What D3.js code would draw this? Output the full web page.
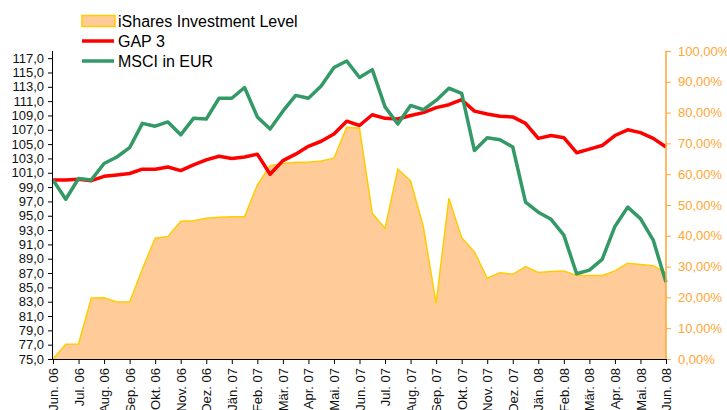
<!DOCTYPE html>
<html>
<head>
<meta charset="utf-8">
<script src="https://cdn.jsdelivr.net/npm/d3@7"></script>
<style>
  body { margin: 0; background: #fff; }
  svg { font-family: "Liberation Sans", Arial, sans-serif; }
</style>
</head>
<body>
<svg id="chart"></svg>
<script>
const months = ["Jun. 06","Jul. 06","Aug. 06","Sep. 06","Okt. 06","Nov. 06","Dez. 06","Jän. 07",
  "Feb. 07","Mär. 07","Apr. 07","Mai. 07","Jun. 07","Jul. 07","Aug. 07","Sep. 07","Okt. 07",
  "Nov. 07","Dez. 07","Jän. 08","Feb. 08","Mär. 08","Apr. 08","Mai. 08","Jun. 08"];

// semi-monthly readings, 49 points from Jun. 06 to Jun. 08
const gap3 = [100.0,100.0,100.1,99.9,100.5,100.7,100.9,101.5,101.5,101.8,101.3,102.1,102.8,
  103.3,103.0,103.2,103.6,100.8,102.7,103.6,104.7,105.4,106.4,108.2,107.6,
  109.1,108.6,108.5,109.0,109.4,110.1,110.5,111.2,109.6,109.2,108.9,108.8,
  107.9,105.8,106.2,105.9,103.8,104.3,104.8,106.2,107.0,106.6,105.8,104.6];

const msci = [100.0,97.3,100.2,100.0,102.3,103.2,104.5,107.9,107.5,108.1,106.3,108.6,108.5,
  111.4,111.4,112.9,108.8,107.1,109.6,111.8,111.4,113.1,115.7,116.6,114.3,
  115.4,110.2,107.8,110.4,109.8,111.1,112.8,112.1,104.1,105.9,105.6,104.6,
  96.9,95.5,94.5,92.3,86.9,87.4,88.9,93.5,96.2,94.6,91.6,85.7];

// investment level in percent (right axis)
const investment = [0,4.8,4.9,19.8,19.9,18.5,18.5,29.2,39.2,39.8,44.7,44.9,45.7,
  46.0,46.2,46.2,56.5,62.8,63.5,63.9,63.9,64.3,65.2,75.2,74.9,
  47.3,42.4,61.6,57.8,43.0,18.1,52.2,39.4,34.8,26.2,28.0,27.5,
  30.0,28.1,28.4,28.6,27.1,27.1,27.1,28.6,31.1,30.7,30.3,28.0];

const leftTicks = d3.range(75, 118, 2);
const rightTicks = d3.range(0, 101, 10);

const width = 727, height = 410;
const margin = { top: 51, right: 61, bottom: 51, left: 53 };
const orange = "#FFA633";

const svg = d3.select("#chart")
  .attr("width", width)
  .attr("height", height);

const xScale = d3.scaleLinear()
  .domain([0, investment.length - 1])
  .range([margin.left, width - margin.right]);

const yScale = d3.scaleLinear()
  .domain([75, 118])
  .range([height - margin.bottom, margin.top]);

const pScale = d3.scaleLinear()
  .domain([0, 100 * 43 / 43])
  .range([height - margin.bottom, margin.top]);

const comma = f => v => d3.format(f)(v).replace(".", ",");

// area for investment level
const area = d3.area()
  .x((d, i) => xScale(i))
  .y0(pScale(0))
  .y1(d => pScale(d));

svg.append("path")
  .datum(investment)
  .attr("d", area)
  .attr("fill", "#FFCC99");

svg.append("path")
  .datum(investment)
  .attr("d", d3.line().x((d, i) => xScale(i)).y(d => pScale(d)))
  .attr("fill", "none")
  .attr("stroke", "#FFCC00")
  .attr("stroke-width", 1.5);

const line = d3.line()
  .x((d, i) => xScale(i))
  .y(d => yScale(d));

svg.append("path")
  .datum(gap3)
  .attr("d", line)
  .attr("fill", "none")
  .attr("stroke", "#FF0000")
  .attr("stroke-width", 3.5)
  .attr("stroke-linejoin", "round");

svg.append("path")
  .datum(msci)
  .attr("d", line)
  .attr("fill", "none")
  .attr("stroke", "#339966")
  .attr("stroke-width", 3.5)
  .attr("stroke-linejoin", "round");

// axes
const yAxis = d3.axisLeft(yScale)
  .tickValues(leftTicks)
  .tickSize(5)
  .tickPadding(4)
  .tickFormat(comma(".1f"));

const yAxisGroup = svg.append("g")
  .attr("transform", `translate(${margin.left},0)`)
  .call(yAxis);
yAxisGroup.select(".domain").attr("d", `M-0.5,${yScale(118)}V${yScale(75)}`);
yAxisGroup.selectAll("text").attr("font-size", 13).attr("fill", "#111");

const rAxis = d3.axisRight(pScale)
  .tickValues(rightTicks)
  .tickSize(5)
  .tickPadding(7)
  .tickFormat(d => comma(".2f")(d) + "%");

const rAxisGroup = svg.append("g")
  .attr("transform", `translate(${width - margin.right},0)`)
  .call(rAxis);
rAxisGroup.select(".domain").attr("stroke", orange).attr("stroke-width", 1.5)
  .attr("d", `M0,${pScale(100)}V${pScale(0)}`);
rAxisGroup.selectAll("line").attr("stroke", orange);
rAxisGroup.selectAll("text").attr("font-size", 13).attr("fill", orange);

const xAxis = d3.axisBottom(xScale)
  .tickValues(d3.range(0, investment.length, 2))
  .tickSize(5)
  .tickFormat((d, i) => months[i]);

const xAxisGroup = svg.append("g")
  .attr("transform", `translate(0,${height - margin.bottom})`)
  .call(xAxis);
xAxisGroup.select(".domain").attr("d", `M${margin.left},0.5H${width - margin.right}`);
xAxisGroup.selectAll("text")
  .attr("font-size", 13)
  .attr("fill", "#111")
  .attr("text-anchor", "end")
  .attr("transform", "rotate(-90)")
  .attr("x", -9)
  .attr("y", 0)
  .attr("dy", "0.35em");

// legend
const legend = svg.append("g").attr("font-size", 16);

legend.append("rect")
  .attr("x", 82).attr("y", 15.5)
  .attr("width", 33).attr("height", 11)
  .attr("fill", "#FFCC99")
  .attr("stroke", "#FFCC00")
  .attr("stroke-width", 1.5);
legend.append("text").attr("x", 118).attr("y", 21).attr("dy", "0.35em").text("iShares Investment Level");

legend.append("line")
  .attr("x1", 82).attr("x2", 114).attr("y1", 41).attr("y2", 41)
  .attr("stroke", "#FF0000").attr("stroke-width", 3.5);
legend.append("text").attr("x", 118).attr("y", 41).attr("dy", "0.35em").text("GAP 3");

legend.append("line")
  .attr("x1", 82).attr("x2", 114).attr("y1", 61).attr("y2", 61)
  .attr("stroke", "#339966").attr("stroke-width", 3.5);
legend.append("text").attr("x", 118).attr("y", 61).attr("dy", "0.35em").text("MSCI in EUR");
</script>
</body>
</html>
